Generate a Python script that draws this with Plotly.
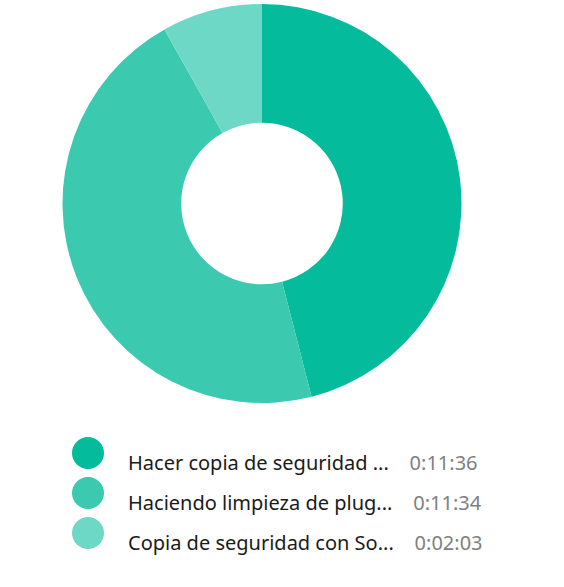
import plotly.graph_objects as go

# Data
categories = ["Hacer copia de seguridad ...", "Haciendo limpieza de plug...", "Copia de seguridad con So..."]
durations_s = [696, 694, 123]
time_labels = ["0:11:36", "0:11:34", "0:02:03"]
colors = ["#04BB9B", "#3BCAB0", "#6DD8C6"]

W, H = 564, 587

fig = go.Figure()

fig.add_trace(go.Pie(
    labels=categories,
    values=durations_s,
    hole=0.405,
    sort=False,
    direction="clockwise",
    rotation=0,
    marker=dict(colors=colors, line=dict(width=0)),
    textinfo="none",
    hoverinfo="label+value",
    showlegend=False,
    domain=dict(x=[62 / W, 462 / W], y=[1 - 403 / H, 1 - 4 / H]),
))

# Legend markers as a scatter on hidden axes
rows = list(range(len(categories)))
fig.add_trace(go.Scatter(
    x=[0] * len(rows),
    y=rows,
    mode="markers",
    marker=dict(size=32, color=colors, line=dict(width=0)),
    showlegend=False,
    hoverinfo="skip",
    xaxis="x", yaxis="y",
))

row_top, row_h = 433, 40
fig.update_layout(
    xaxis=dict(domain=[0, 1], range=[-88, W - 88], visible=False, fixedrange=True),
    yaxis=dict(domain=[1 - (row_top + 3 * row_h) / H, 1 - row_top / H],
               range=[2.5, -0.5], visible=False, fixedrange=True),
)

nb = "\u00a0" * 4
for i, (cat, t) in enumerate(zip(categories, time_labels)):
    fig.add_annotation(
        x=38, y=i, xref="x", yref="y",
        xanchor="left", yanchor="middle", yshift=-9,
        text=f"{cat}{nb}<span style='color:#7f7f7f'>{t}</span>",
        showarrow=False,
        font=dict(family="Noto Sans", size=20, color="#1a1a1a"),
    )

fig.update_layout(
    width=W, height=H,
    margin=dict(l=0, r=0, t=0, b=0),
    paper_bgcolor="white",
    plot_bgcolor="white",
    font=dict(family="Noto Sans"),
)

fig.write_html("out.html", config={"displayModeBar": False},
               post_script="document.body.style.margin='0';")
